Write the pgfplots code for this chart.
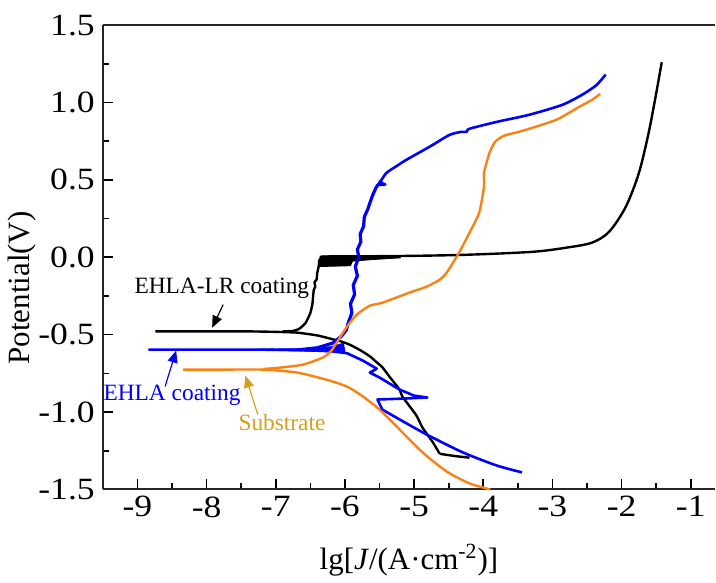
\documentclass[border=0pt]{standalone}
\usepackage{fontspec}
\setmainfont{Liberation Serif}
\usepackage{pgfplots}
\pgfplotsset{compat=1.18}
\usetikzlibrary{arrows.meta}
\definecolor{subline}{RGB}{250,130,20}
\definecolor{subtext}{RGB}{212,160,30}
\definecolor{ehla}{RGB}{0,0,255}

\begin{document}
\begin{tikzpicture}
\begin{axis}[
  scale only axis,
  width=306.5pt, height=232.5pt,
  xmin=-9.5, xmax=-0.65, ymin=-1.5, ymax=1.5,
  axis x line*=box, axis y line*=left,
  xtick pos=bottom,
  xtick={-9,-8,...,-1}, ytick={-1.5,-1,...,1.5},
  minor x tick num=1, minor y tick num=1,
  tick align=inside,
  major tick length=5pt, minor tick length=3pt,
  axis line style={line width=1pt, black!85},
  every tick/.style={black, line width=0.8pt},
  tick label style={font=\fontsize{15.5}{18}\selectfont, xscale=1.15},
  /pgf/number format/assume math mode=true,
  yticklabel style={/pgf/number format/.cd, fixed, fixed zerofill, precision=1},
  xlabel={lg[\textit{J}/(A·cm\textsuperscript{-2})]},
  ylabel={Potential(V)},
  label style={font=\fontsize{15.5}{18}\selectfont},
  xlabel style={at={(axis description cs:0.5,-0.152)}, anchor=center},
  ylabel style={at={(axis description cs:-0.132,0.434)}, anchor=center},
  clip=false,
]
\path (axis description cs:-0.168,-0.196) rectangle (axis description cs:1.0,1.054);

% EHLA-LR coating
\addplot[black, line width=1.2pt, line join=round, smooth, tension=0.3] coordinates {
 (-8.74,-0.479) (-8.0,-0.479) (-7.4,-0.479) (-7.0,-0.482) (-6.69,-0.487)
 (-6.4,-0.505) (-6.22,-0.525) (-6.05,-0.545) (-5.93,-0.565) (-5.78,-0.60)
 (-5.64,-0.64) (-5.55,-0.675) (-5.46,-0.71) (-5.35,-0.775) (-5.21,-0.855)
 (-5.17,-0.90) (-4.97,-1.02) (-4.88,-1.10) (-4.73,-1.195) (-4.63,-1.27)
};
\addplot[black, line width=1.2pt, line join=round] coordinates {
 (-4.63,-1.27) (-4.40,-1.285) (-4.20,-1.295)
};
\addplot[black, line width=1.2pt, line join=round, smooth, tension=0.3] coordinates {
 (-6.90,-0.479) (-6.75,-0.476) (-6.66,-0.462) (-6.57,-0.425) (-6.50,-0.36)
 (-6.47,-0.30) (-6.46,-0.25) (-6.45,-0.21) (-6.43,-0.19) (-6.44,-0.16)
 (-6.41,-0.145) (-6.40,-0.10) (-6.38,-0.06) (-6.37,-0.02) (-6.33,0.005)
};
\addplot[black, line width=1.2pt, line join=round, smooth, tension=0.5] coordinates {
 (-6.33,0.005) (-5.2,0.008) (-4.25,0.016) (-3.29,0.035) (-2.80,0.062)
 (-2.43,0.094) (-2.18,0.165) (-1.94,0.326) (-1.75,0.545) (-1.61,0.803)
 (-1.51,1.035) (-1.42,1.26)
};
\addplot[black, fill=black, line width=0.4pt] coordinates {
 (-6.36,0.008) (-5.2,0.008) (-5.2,-0.004) (-5.6,-0.015) (-5.89,-0.025)
 (-5.92,-0.055) (-6.36,-0.06)
} -- cycle;

% EHLA coating
\addplot[ehla, line width=1.3pt, line join=round] coordinates {
 (-8.84,-0.597) (-8.0,-0.597) (-7.2,-0.597) (-6.6,-0.60) (-6.2,-0.607)
 (-5.97,-0.62) (-5.74,-0.668) (-5.54,-0.72) (-5.64,-0.745) (-5.50,-0.777)
 (-5.21,-0.855) (-5.0,-0.894) (-4.81,-0.906) (-5.14,-0.913) (-5.53,-0.919)
 (-5.46,-0.984) (-5.21,-1.048)
};
\addplot[ehla, line width=1.3pt, line join=round, smooth, tension=0.4] coordinates {
 (-5.21,-1.048) (-4.82,-1.145) (-4.30,-1.26) (-3.81,-1.345) (-3.44,-1.39)
};
\addplot[ehla, line width=1.6pt, line join=round] coordinates {
 (-6.65,-0.597) (-6.4,-0.585) (-6.18,-0.555) (-6.05,-0.51) (-5.98,-0.47)
 (-5.95,-0.42) (-5.90,-0.36) (-5.92,-0.30) (-5.86,-0.24) (-5.88,-0.18)
 (-5.82,-0.12) (-5.85,-0.06) (-5.80,0.0) (-5.82,0.05) (-5.77,0.10)
 (-5.78,0.15) (-5.73,0.20) (-5.72,0.26) (-5.67,0.31) (-5.64,0.35)
 (-5.60,0.40) (-5.55,0.45) (-5.52,0.47) (-5.42,0.47) (-5.50,0.48)
 (-5.47,0.50)
};
\addplot[ehla, line width=1.3pt, line join=round, smooth, tension=0.4] coordinates {
 (-5.47,0.50) (-5.40,0.545) (-5.25,0.59) (-5.11,0.63) (-4.78,0.713)
 (-4.49,0.79) (-4.32,0.81) (-4.24,0.81) (-4.20,0.83) (-3.81,0.874)
 (-3.34,0.92) (-2.86,0.984) (-2.57,1.05) (-2.37,1.11) (-2.23,1.18)
};
\addplot[ehla, fill=ehla, line width=0.4pt] coordinates {
 (-7.3,-0.594) (-6.6,-0.590) (-6.2,-0.578) (-6.02,-0.555) (-6.0,-0.615)
 (-6.4,-0.608) (-7.3,-0.600)
} -- cycle;

% Substrate
\addplot[subline, line width=1.2pt, line join=round, smooth, tension=0.4] coordinates {
 (-8.34,-0.726) (-7.8,-0.726) (-7.18,-0.726) (-6.69,-0.745) (-6.22,-0.797)
 (-5.95,-0.84) (-5.74,-0.90) (-5.50,-0.984) (-5.21,-1.113) (-4.88,-1.26)
 (-4.53,-1.384) (-4.20,-1.461) (-3.90,-1.50)
};
\addplot[subline, line width=1.2pt, line join=round, smooth, tension=0.4] coordinates {
 (-7.18,-0.722) (-6.94,-0.713) (-6.61,-0.694) (-6.32,-0.648) (-6.2,-0.605)
 (-6.12,-0.552) (-5.97,-0.448) (-5.83,-0.371) (-5.64,-0.313) (-5.46,-0.294)
 (-5.07,-0.229) (-4.82,-0.19) (-4.63,-0.145) (-4.53,-0.10) (-4.35,0.03)
 (-4.20,0.158) (-4.06,0.287) (-3.99,0.455) (-3.99,0.545) (-3.91,0.674)
 (-3.83,0.745) (-3.70,0.785) (-3.44,0.816) (-2.95,0.887) (-2.62,0.97)
 (-2.43,1.016) (-2.31,1.055)
};

% annotations
\node[font=\fontsize{11.7}{14}\selectfont, black] at (axis cs:-7.78,-0.203) {EHLA-LR coating};
\draw[black, line width=0.6pt, -{Triangle[length=6pt,width=5pt]}] (axis cs:-7.76,-0.306) -- (axis cs:-7.92,-0.455);
\node[font=\fontsize{11.7}{14}\selectfont, ehla] at (axis cs:-8.50,-0.894) {EHLA coating};
\draw[ehla, line width=0.6pt, -{Triangle[length=6pt,width=5pt]}] (axis cs:-8.60,-0.835) -- (axis cs:-8.44,-0.603);
\node[font=\fontsize{11.7}{14}\selectfont, subtext] at (axis cs:-6.91,-1.068) {Substrate};
\draw[subtext, line width=0.6pt, -{Triangle[length=6pt,width=5pt]}] (axis cs:-7.26,-1.016) -- (axis cs:-7.44,-0.765);
\end{axis}
\end{tikzpicture}
\end{document}
